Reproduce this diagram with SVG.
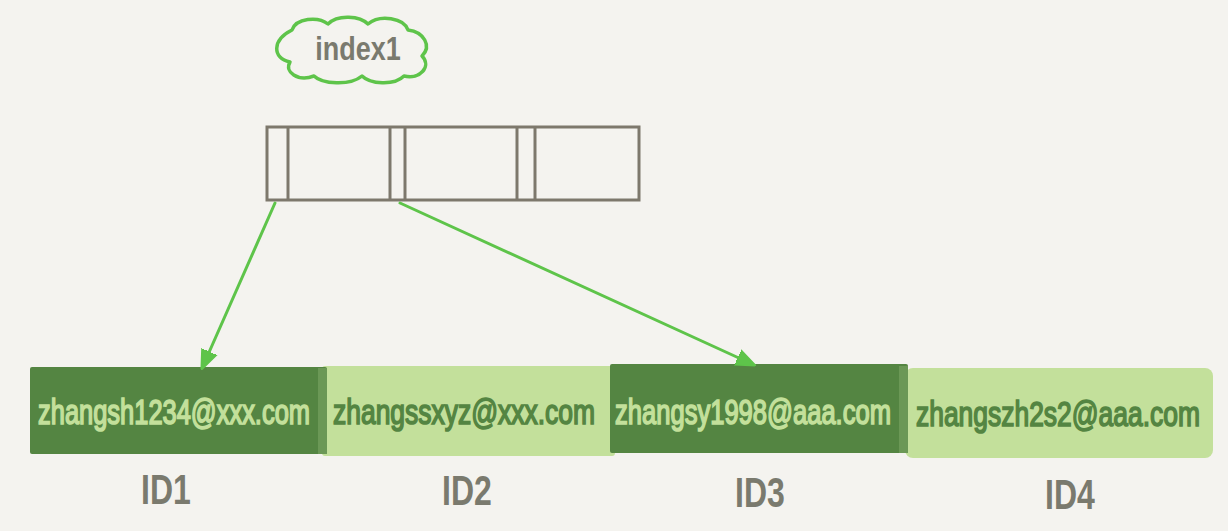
<svg xmlns="http://www.w3.org/2000/svg" width="1228" height="531" viewBox="0 0 1228 531">
<style>
.bg{fill:#f4f3ef}
.cell{fill:none;stroke:#7d786c;stroke-width:3}
.edge{fill:none;stroke:#5ec44a;stroke-width:3;stroke-linecap:round}
.dark{fill:#548542}
.light{fill:#c3e09b}
.tl{font-family:"Liberation Sans",Arial,sans-serif;font-size:25px;fill:#c3e09b;stroke:#c3e09b;stroke-width:1.2}
.td{font-family:"Liberation Sans",Arial,sans-serif;font-size:25px;fill:#548542;stroke:#548542;stroke-width:1.2}
.id{font-family:"Liberation Sans",Arial,sans-serif;font-size:32px;font-weight:bold;fill:#7a7a6e}
.lbl{font-family:"Liberation Sans",Arial,sans-serif;font-size:27px;font-weight:bold;fill:#7a7a6e}
</style>
<defs>
<marker id="ah" viewBox="0 0 10 10" refX="8" refY="5" markerWidth="6.5" markerHeight="6.5" orient="auto" markerUnits="strokeWidth">
<path d="M0,1 L10,5 L0,9 z" fill="#5ec44a" stroke="#5ec44a" stroke-width="1" stroke-linejoin="round"/>
</marker>
</defs>
<rect class="bg" x="0" y="0" width="1228" height="531"/>
<g id="index1-label">
<path d="M292,30 C296,18 318,16 328,24 C338,14 360,16 368,24 C380,14 404,18 408,30 C424,32 432,46 422,56 C432,66 420,80 404,76 C394,86 370,84 362,76 C350,86 322,84 314,76 C298,82 284,72 290,62 C272,58 272,40 292,30 Z" fill="none" stroke="#5ec44a" stroke-width="3.5" stroke-linejoin="round"/>
<text class="lbl" transform="translate(358,60) scale(1,1.2)" text-anchor="middle">index1</text>
</g>
<g id="index-node">
<rect class="cell" x="267" y="127" width="372" height="73"/>
<line class="cell" x1="288" y1="127" x2="288" y2="200"/>
<line class="cell" x1="390" y1="127" x2="390" y2="200"/>
<line class="cell" x1="405" y1="127" x2="405" y2="200"/>
<line class="cell" x1="517" y1="127" x2="517" y2="200"/>
<line class="cell" x1="535" y1="127" x2="535" y2="200"/>
</g>
<g id="row-ID2">
<rect class="light" x="322" y="366" width="293" height="90" rx="3"/>
<text class="td" transform="translate(464,424) scale(1,1.4)" text-anchor="middle" textLength="262" lengthAdjust="spacingAndGlyphs">zhangssxyz@xxx.com</text>
<text class="id" transform="translate(467,505) scale(1,1.35)" text-anchor="middle">ID2</text>
</g>
<g id="row-ID4">
<rect class="light" x="905" y="368" width="308" height="90" rx="8"/>
<text class="td" transform="translate(1058,426) scale(1,1.4)" text-anchor="middle" textLength="284" lengthAdjust="spacingAndGlyphs">zhangszh2s2@aaa.com</text>
<text class="id" transform="translate(1070,509) scale(1,1.35)" text-anchor="middle">ID4</text>
</g>
<g id="row-ID1">
<rect class="dark" x="30" y="367" width="297" height="87" rx="2"/>
<rect x="318" y="368" width="9" height="86" fill="#6b9856"/>
<text class="tl" transform="translate(174,424) scale(1,1.4)" text-anchor="middle" textLength="272" lengthAdjust="spacingAndGlyphs">zhangsh1234@xxx.com</text>
<text class="id" transform="translate(166,504) scale(1,1.35)" text-anchor="middle">ID1</text>
</g>
<g id="row-ID3">
<rect class="dark" x="610" y="364" width="298" height="89" rx="2"/>
<rect x="899" y="366" width="9" height="87" fill="#6b9856"/>
<text class="tl" transform="translate(753,424) scale(1,1.4)" text-anchor="middle" textLength="276" lengthAdjust="spacingAndGlyphs">zhangsy1998@aaa.com</text>
<text class="id" transform="translate(760,507) scale(1,1.35)" text-anchor="middle">ID3</text>
</g>
<g id="connectors">
<line class="edge" x1="275" y1="203" x2="203" y2="366" marker-end="url(#ah)"/>
<line class="edge" x1="400" y1="203" x2="752" y2="364" marker-end="url(#ah)"/>
</g>
</svg>
